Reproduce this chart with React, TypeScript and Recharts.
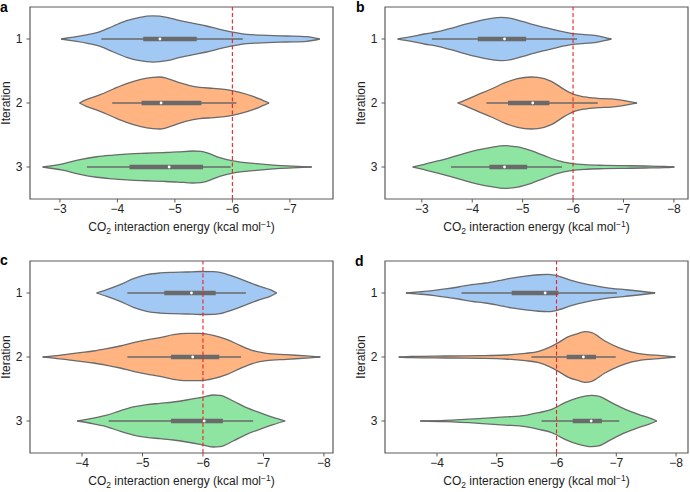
import React from 'react'
import {
  ComposedChart,
  Area,
  Line,
  XAxis,
  YAxis,
  ReferenceLine,
  ReferenceArea,
} from 'recharts'

// violin outlines: [energy, half width in iteration units]
const A1 = [[-3.02, 0], [-3.2, 0.026], [-3.46, 0.063], [-3.7, 0.115], [-3.93, 0.203], [-4.16, 0.286], [-4.39, 0.339], [-4.62, 0.36], [-4.86, 0.339], [-5.09, 0.286], [-5.32, 0.245], [-5.55, 0.203], [-5.78, 0.151], [-6.0, 0.109], [-6.25, 0.073], [-6.6, 0.057], [-6.94, 0.047], [-7.29, 0.036], [-7.52, 0]]
const A2 = [[-3.34, 0], [-3.46, 0.052], [-3.7, 0.13], [-3.93, 0.219], [-4.16, 0.302], [-4.39, 0.365], [-4.62, 0.401], [-4.74, 0.406], [-4.86, 0.385], [-5.09, 0.313], [-5.26, 0.271], [-5.43, 0.245], [-5.67, 0.229], [-5.9, 0.208], [-6.13, 0.167], [-6.36, 0.104], [-6.53, 0.042], [-6.64, 0]]
const A3 = [[-2.7, 0], [-3.05, 0.05], [-3.35, 0.115], [-3.64, 0.16], [-3.93, 0.185], [-4.22, 0.205], [-4.5, 0.215], [-4.8, 0.225], [-5.05, 0.235], [-5.31, 0.25], [-5.45, 0.245], [-5.55, 0.224], [-5.78, 0.146], [-6.01, 0.094], [-6.42, 0.052], [-6.77, 0.026], [-7.05, 0.014], [-7.38, 0]]

const B1 = [[-2.52, 0], [-2.79, 0.036], [-3.05, 0.078], [-3.32, 0.115], [-3.58, 0.167], [-3.85, 0.229], [-4.11, 0.281], [-4.38, 0.323], [-4.57, 0.339], [-4.77, 0.323], [-4.97, 0.281], [-5.17, 0.234], [-5.43, 0.182], [-5.7, 0.13], [-5.96, 0.089], [-6.23, 0.068], [-6.43, 0.057], [-6.62, 0.026], [-6.76, 0]]
const B2 = [[-3.71, 0], [-3.85, 0.042], [-4.11, 0.13], [-4.38, 0.219], [-4.64, 0.313], [-4.9, 0.38], [-5.17, 0.406], [-5.3, 0.401], [-5.57, 0.339], [-5.83, 0.208], [-6.03, 0.13], [-6.23, 0.094], [-6.49, 0.073], [-6.76, 0.063], [-7.02, 0.036], [-7.15, 0.016], [-7.27, 0]]
const B3 = [[-2.82, 0], [-3.05, 0.042], [-3.32, 0.094], [-3.58, 0.151], [-3.85, 0.214], [-4.11, 0.266], [-4.38, 0.307], [-4.64, 0.333], [-4.9, 0.313], [-5.17, 0.255], [-5.43, 0.177], [-5.7, 0.099], [-5.96, 0.057], [-6.23, 0.036], [-6.62, 0.026], [-7.02, 0.021], [-7.42, 0.016], [-7.81, 0.01], [-8.01, 0]]

const C1 = [[-4.24, 0], [-4.41, 0.052], [-4.63, 0.13], [-4.85, 0.224], [-5.07, 0.286], [-5.29, 0.313], [-5.51, 0.323], [-5.73, 0.328], [-5.95, 0.336], [-6.17, 0.333], [-6.28, 0.323], [-6.5, 0.26], [-6.72, 0.182], [-6.94, 0.104], [-7.11, 0.052], [-7.22, 0]]
const C2 = [[-3.35, 0], [-3.53, 0.016], [-3.75, 0.042], [-3.97, 0.068], [-4.19, 0.094], [-4.41, 0.13], [-4.63, 0.172], [-4.85, 0.224], [-5.07, 0.266], [-5.29, 0.302], [-5.51, 0.349], [-5.73, 0.37], [-5.95, 0.37], [-6.17, 0.339], [-6.39, 0.276], [-6.61, 0.182], [-6.83, 0.099], [-7.05, 0.057], [-7.38, 0.036], [-7.71, 0.016], [-7.94, 0]]
const C3 = [[-3.92, 0], [-4.19, 0.045], [-4.41, 0.09], [-4.63, 0.16], [-4.85, 0.219], [-5.07, 0.255], [-5.29, 0.276], [-5.51, 0.297], [-5.73, 0.328], [-5.95, 0.365], [-6.17, 0.406], [-6.28, 0.401], [-6.5, 0.313], [-6.72, 0.208], [-6.94, 0.13], [-7.16, 0.057], [-7.36, 0]]

const D1 = [[-3.48, 0], [-3.69, 0.016], [-3.92, 0.036], [-4.14, 0.063], [-4.36, 0.094], [-4.58, 0.13], [-4.81, 0.156], [-5.03, 0.193], [-5.25, 0.234], [-5.48, 0.265], [-5.7, 0.285], [-5.86, 0.29], [-6.03, 0.265], [-6.26, 0.193], [-6.48, 0.141], [-6.7, 0.104], [-6.92, 0.073], [-7.15, 0.052], [-7.37, 0.031], [-7.65, 0]]
const D2 = [[-3.36, 0], [-3.58, 0.01], [-4.14, 0.016], [-4.7, 0.021], [-5.14, 0.031], [-5.48, 0.057], [-5.7, 0.089], [-5.87, 0.146], [-6.03, 0.224], [-6.2, 0.318], [-6.37, 0.37], [-6.48, 0.396], [-6.59, 0.38], [-6.81, 0.25], [-7.04, 0.146], [-7.26, 0.078], [-7.48, 0.042], [-7.76, 0.021], [-7.99, 0]]
const D3 = [[-3.72, 0], [-4.14, 0.01], [-4.7, 0.036], [-5.14, 0.063], [-5.48, 0.089], [-5.7, 0.13], [-5.92, 0.182], [-6.14, 0.286], [-6.37, 0.365], [-6.59, 0.401], [-6.7, 0.39], [-6.92, 0.286], [-7.15, 0.182], [-7.37, 0.104], [-7.54, 0.052], [-7.68, 0]]

// inner box: [whisker low, q1, median, q3, whisker high]
const A_BOX = [[-3.72, -4.45, -4.74, -5.38, -6.18], [-3.91, -4.42, -4.76, -5.46, -6.07], [-3.47, -4.21, -4.9, -5.49, -5.97]]
const B_BOX = [[-3.2, -4.11, -4.64, -5.07, -6.08], [-4.28, -4.71, -5.2, -5.53, -6.49], [-3.58, -4.34, -4.64, -5.09, -5.78]]
const C_BOX = [[-4.75, -5.36, -5.81, -6.21, -6.71], [-4.75, -5.47, -5.83, -6.27, -6.63], [-4.44, -5.47, -6.02, -6.33, -6.83]]
const D_BOX = [[-4.41, -5.25, -5.81, -6.03, -7.01], [-5.58, -6.17, -6.45, -6.66, -6.99], [-5.75, -6.27, -6.58, -6.76, -7.05]]

const ITERATIONS = [1, 2, 3]
const TICKS_A = [-3, -4, -5, -6, -7]
const TICKS_B = [-3, -4, -5, -6, -7, -8]
const TICKS_CD = [-4, -5, -6, -7, -8]
const THRESHOLD = -6

const FILLS = ['#a1c9f4', '#ffb482', '#8de5a1']
const EDGE = '#6a6a6a'
const FRAME = '#5a5a5a'
const FONT = '"Liberation Sans", Arial, sans-serif'

const fmt = (v: number) => (v < 0 ? `\u2212${Math.abs(v)}` : `${v}`)

function XLabel({ viewBox }: any) {
  if (!viewBox) return null
  const cx = viewBox.x + viewBox.width / 2
  return (
    <text x={cx} y={viewBox.y + 32} textAnchor="middle" fontSize={12} fill="#222" fontFamily={FONT}>
      CO<tspan fontSize={8.5} dy={3}>2</tspan>
      <tspan dy={-3}> interaction energy (kcal mol</tspan>
      <tspan fontSize={8.5} dy={-4.5}>{'\u22121'}</tspan>
      <tspan dy={4.5}>)</tspan>
    </text>
  )
}

function YLabel({ viewBox }: any) {
  if (!viewBox) return null
  const x = viewBox.x + viewBox.width - 24
  const y = viewBox.y + viewBox.height / 2
  return (
    <text x={x} y={y} transform={`rotate(-90 ${x} ${y})`} textAnchor="middle" dominantBaseline="central" fontSize={12} fill="#222" fontFamily={FONT}>
      Iteration
    </text>
  )
}

interface PanelProps {
  letter: string
  violins: number[][][]
  boxes: number[][]
  domain: [number, number]
  ticks: number[]
  axisWidth: number
  top: number
  bottom: number
  letterX: number
  letterY: number
}

function Panel({ letter, violins, boxes, domain, ticks, axisWidth, top, bottom, letterX, letterY }: PanelProps) {
  const right = 345 - axisWidth - 303
  const tickStyle = { fontSize: 12, fill: '#222', fontFamily: FONT }
  return (
    <div style={{ position: 'relative', width: 345, height: 246 }}>
      <ComposedChart width={345} height={246} margin={{ top, right, bottom: 0, left: 0 }}>
        <XAxis
          dataKey="e"
          type="number"
          domain={domain}
          reversed
          ticks={ticks}
          tickFormatter={fmt}
          allowDataOverflow
          height={bottom}
          tick={tickStyle}
          tickSize={3.5}
          tickMargin={2}
          stroke={FRAME}
          axisLine={false}
          label={<XLabel />}
        />
        <YAxis
          type="number"
          domain={[0.5, 3.5]}
          reversed
          ticks={ITERATIONS}
          allowDataOverflow
          width={axisWidth}
          tick={tickStyle}
          tickSize={3.5}
          tickMargin={4}
          stroke={FRAME}
          axisLine={false}
          label={<YLabel />}
        />
        {violins.map((pts, i) => (
          <Area
            key={`v${i}`}
            data={pts.map(([e, w]) => ({ e, band: [ITERATIONS[i] - w, ITERATIONS[i] + w] }))}
            dataKey="band"
            type="monotone"
            fill={FILLS[i]}
            fillOpacity={1}
            stroke={EDGE}
            strokeWidth={1.3}
            dot={false}
            activeDot={false}
            isAnimationActive={false}
          />
        ))}
        {boxes.map((b, i) => (
          <Line
            key={`w${i}`}
            data={[{ e: b[0], v: ITERATIONS[i] }, { e: b[4], v: ITERATIONS[i] }]}
            dataKey="v"
            stroke={EDGE}
            strokeWidth={1.3}
            dot={false}
            activeDot={false}
            isAnimationActive={false}
          />
        ))}
        {boxes.map((b, i) => (
          <Line
            key={`b${i}`}
            data={[{ e: b[1], v: ITERATIONS[i] }, { e: b[3], v: ITERATIONS[i] }]}
            dataKey="v"
            stroke={EDGE}
            strokeWidth={4.5}
            dot={false}
            activeDot={false}
            isAnimationActive={false}
          />
        ))}
        {boxes.map((b, i) => (
          <Line
            key={`m${i}`}
            data={[{ e: b[2], v: ITERATIONS[i] }]}
            dataKey="v"
            stroke="none"
            dot={{ r: 1.4, fill: '#ffffff', stroke: 'none' }}
            activeDot={false}
            isAnimationActive={false}
          />
        ))}
        <ReferenceLine x={THRESHOLD} stroke="#ee2222" strokeDasharray="4 2.5" strokeWidth={1.1} />
        <ReferenceArea
          x1={domain[0]}
          x2={domain[1]}
          y1={0.5}
          y2={3.5}
          fill="none"
          stroke={FRAME}
          strokeWidth={1.2}
          ifOverflow="visible"
        />
      </ComposedChart>
      <div
        style={{
          position: 'absolute',
          left: letterX,
          top: letterY,
          fontFamily: FONT,
          fontWeight: 'bold',
          fontSize: 14,
          lineHeight: 1,
          color: '#000',
        }}
      >
        {letter}
      </div>
    </div>
  )
}

export default function App() {
  return (
    <div
      style={{
        position: 'absolute',
        left: 0,
        top: 0,
        width: 690,
        height: 492,
        background: '#fff',
        display: 'grid',
        gridTemplateColumns: '345px 345px',
        gridTemplateRows: '246px 246px',
      }}
    >
      <Panel letter="a" violins={[A1, A2, A3]} boxes={A_BOX} domain={[-7.75, -2.48]} ticks={TICKS_A} axisWidth={30} top={7} bottom={47} letterX={0} letterY={0} />
      <Panel letter="b" violins={[B1, B2, B3]} boxes={B_BOX} domain={[-8.28, -2.27]} ticks={TICKS_B} axisWidth={40} top={7} bottom={47} letterX={11} letterY={0} />
      <Panel letter="c" violins={[C1, C2, C3]} boxes={C_BOX} domain={[-8.15, -3.14]} ticks={TICKS_CD} axisWidth={30} top={15} bottom={39} letterX={0} letterY={7} />
      <Panel letter="d" violins={[D1, D2, D3]} boxes={D_BOX} domain={[-8.2, -3.13]} ticks={TICKS_CD} axisWidth={40} top={15} bottom={39} letterX={10} letterY={8} />
    </div>
  )
}
